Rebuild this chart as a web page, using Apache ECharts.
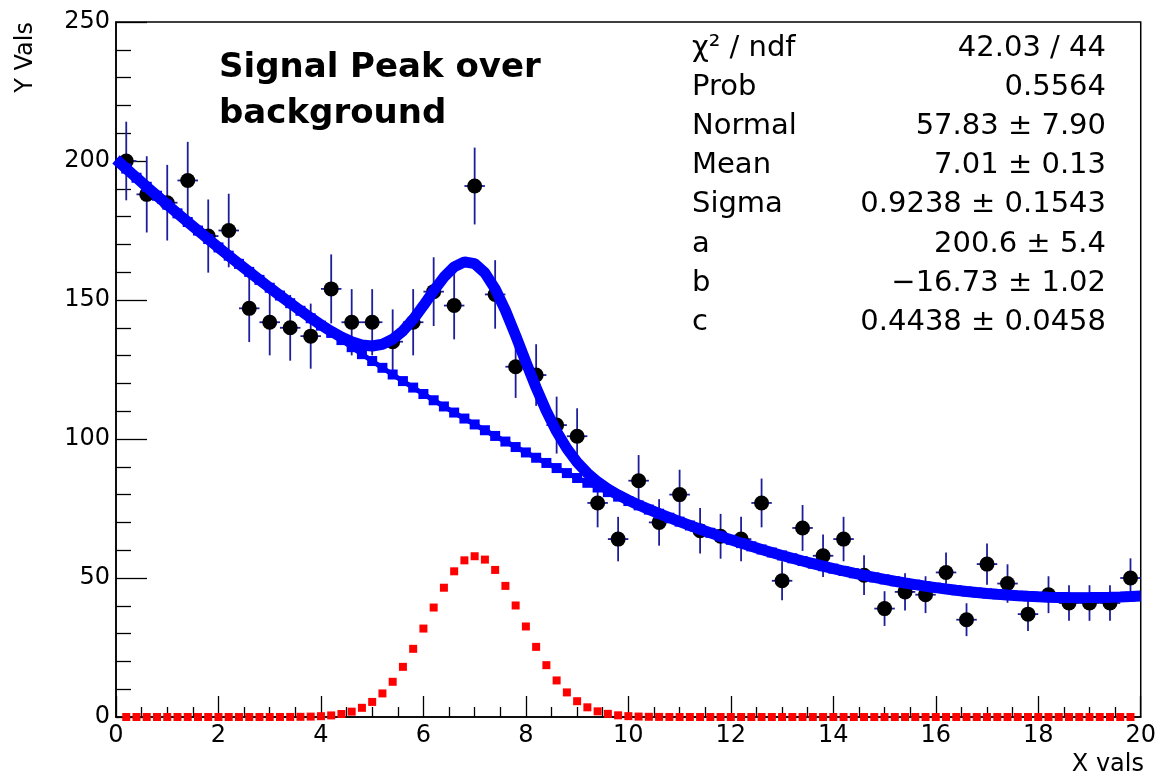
<!DOCTYPE html>
<html>
	<head>
		<meta charset="utf-8">
		<title>Signal Peak over background</title>
		<style>
			body { margin: 0; background: #fff; }
		</style>
	</head>
	<body>
		<div id="container" style="width: 1159px;height:778px;"></div>
	</body>
	<script src="https://cdn.jsdelivr.net/npm/echarts@6/dist/echarts.min.js"></script>
	<script type="text/javascript">
		'use strict'

		// histogram: 50 bins between 0 and 20
		var binWidth = 0.4;
		var counts = [200, 188, 185, 193, 173, 175, 147, 142, 140, 137,
			154, 142, 142, 135, 142, 153, 148, 191, 152, 126,
			123, 105, 101, 77, 64, 85, 70, 80, 67, 65,
			64, 77, 49, 68, 58, 64, 51, 39, 45, 44,
			52, 35, 55, 48, 37, 44, 41, 41, 41, 50];

		// fit results shown in the stats box
		var peakPars = [57.83, 7.01, 0.9238];   // Normal, Mean, Sigma
		var backPars = [200.6, -16.73, 0.4438]; // a, b, c
		var statNames = ['\u03c7\u00b2 / ndf', 'Prob', 'Normal', 'Mean', 'Sigma', 'a', 'b', 'c'];
		var statValues = ['42.03 / 44', '0.5564', '57.83 \u00b1 7.90', '7.01 \u00b1 0.13',
			'0.9238 \u00b1 0.1543', '200.6 \u00b1 5.4', '\u221216.73 \u00b1 1.02', '0.4438 \u00b1 0.0458'];

		var font = 'DejaVu Sans';
		var errColor = '#1e1e9c';

		function background(x) {
			return backPars[0] + backPars[1] * x + backPars[2] * x * x;
		}
		function peak(x) {
			var t = (x - peakPars[1]) / peakPars[2];
			return peakPars[0] * Math.exp(-0.5 * t * t);
		}

		var points = [];
		for (var i = 0; i < counts.length; i++) {
			var x = +(binWidth * (i + 0.5)).toFixed(2);
			points.push([x, counts[i], Math.sqrt(counts[i])]);
		}

		// TF1 drawn with 100 steps over [0, 20]
		var fitLine = [], backPts = [], peakPts = [];
		for (var k = 0; k <= 100; k++) {
			var fx = +(k * 0.2).toFixed(2);
			fitLine.push([fx, background(fx) + peak(fx)]);
			if (k > 0 && k < 100) {
				backPts.push([fx, background(fx)]);
				peakPts.push([fx, peak(fx)]);
			}
		}

		var graphics = [{
			type: 'text', x: 26, y: 22, rotation: Math.PI / 2,
			style: { text: 'Y Vals', font: '24px "' + font + '"', fill: '#000', align: 'right', verticalAlign: 'middle' }
		}, {
			type: 'text', x: 1144, y: 765,
			style: { text: 'X vals', font: '24px "' + font + '"', fill: '#000', align: 'right', verticalAlign: 'middle' }
		}];
		for (var r = 0; r < statNames.length; r++) {
			var ry = 48 + r * 39.2;
			graphics.push({
				type: 'text', x: 692, y: ry,
				style: { text: statNames[r], font: '29px "' + font + '"', fill: '#000', align: 'left', verticalAlign: 'middle' }
			});
			graphics.push({
				type: 'text', x: 1106, y: ry,
				style: { text: statValues[r], font: '29px "' + font + '"', fill: '#000', align: 'right', verticalAlign: 'middle' }
			});
		}

		var myCharts = echarts.init(document.getElementById('container'));
		var option = {
			animation: false,
			backgroundColor: '#fff',
			title: {
				text: 'Signal Peak over\nbackground',
				left: 214,
				top: 40,
				textStyle: {
					fontFamily: font,
					fontSize: 34,
					fontWeight: 'bold',
					lineHeight: 46,
					color: '#000'
				}
			},
			grid: {
				left: 116,
				right: 15,
				top: 22,
				bottom: 61,
				show: true,
				borderColor: '#000',
				borderWidth: 1.5
			},
			xAxis: {
				type: 'value',
				min: 0,
				max: 20,
				interval: 2,
				axisLine: { lineStyle: { color: '#000', width: 1.5 } },
				axisTick: { inside: true, length: 21, lineStyle: { color: '#000', width: 1.3 } },
				minorTick: { show: true, splitNumber: 4, length: 10, lineStyle: { color: '#000', width: 1.3 } },
				splitLine: { show: false },
				axisLabel: { color: '#000', fontFamily: font, fontSize: 24, margin: 7 }
			},
			yAxis: {
				type: 'value',
				min: 0,
				max: 250,
				interval: 50,
				axisLine: { show: true, lineStyle: { color: '#000', width: 1.5 } },
				axisTick: { show: true, inside: true, length: 31, lineStyle: { color: '#000', width: 1.3 } },
				minorTick: { show: true, splitNumber: 5, length: 15, lineStyle: { color: '#000', width: 1.3 } },
				splitLine: { show: false },
				axisLabel: { color: '#000', fontFamily: font, fontSize: 24, margin: 6 }
			},
			graphic: graphics,
			series: [{
				// error bars
				type: 'custom',
				data: points,
				z: 2,
				renderItem: function(params, api) {
					var x = api.value(0), y = api.value(1), e = api.value(2);
					var top = api.coord([x, y + e]);
					var bot = api.coord([x, y - e]);
					var lft = api.coord([x - binWidth / 2, y]);
					var rgt = api.coord([x + binWidth / 2, y]);
					return {
						type: 'group',
						children: [{
							type: 'line',
							shape: { x1: top[0], y1: top[1], x2: bot[0], y2: bot[1] },
							style: { stroke: errColor, lineWidth: 1.8 }
						}, {
							type: 'line',
							shape: { x1: lft[0], y1: lft[1], x2: rgt[0], y2: rgt[1] },
							style: { stroke: errColor, lineWidth: 1.8 }
						}]
					};
				}
			}, {
				type: 'scatter',
				data: points,
				z: 3,
				symbol: 'circle',
				symbolSize: 15,
				itemStyle: { color: '#000', opacity: 1 }
			}, {
				type: 'line',
				data: fitLine,
				z: 4,
				showSymbol: false,
				lineStyle: { color: '#0000ff', width: 11 }
			}, {
				type: 'line',
				data: backPts,
				z: 5,
				symbol: 'rect',
				symbolSize: 10,
				showSymbol: true,
				itemStyle: { color: '#0000ff' },
				lineStyle: { color: '#0000ff', width: 5 }
			}, {
				type: 'scatter',
				data: peakPts,
				z: 6,
				symbol: 'rect',
				symbolSize: 8,
				itemStyle: { color: '#ff0000', opacity: 1 }
			}]
		};
		myCharts.setOption(option);
	</script>
</html>
